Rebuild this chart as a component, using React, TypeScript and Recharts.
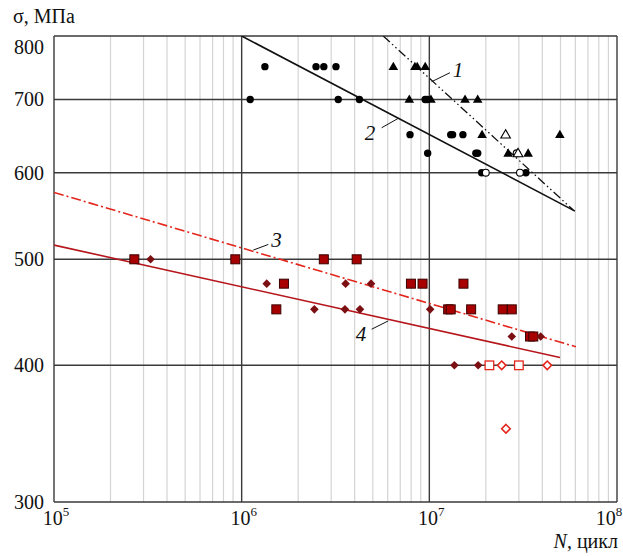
import {
  CartesianGrid,
  ReferenceDot,
  ReferenceLine,
  Scatter,
  ScatterChart,
  XAxis,
  YAxis,
} from "recharts";

const xDomain = [1e5, 1e8];
const yDomain = [300, 800];
const xTicks = [1e5, 1e6, 1e7, 1e8];
const yTicks = [300, 400, 500, 600, 700, 800];
const minorXTicks = [1e5, 1e6, 1e7].flatMap((d) => [2, 3, 4, 5, 6, 7, 8, 9].map((k) => k * d));

// [N, sigma]
const blackCircles = [
  [1.33e6, 750], [2.49e6, 750], [2.74e6, 750], [3.18e6, 750],
  [1.11e6, 700], [3.27e6, 700], [4.24e6, 700], [9.5e6, 700], [9.75e6, 700],
  [7.89e6, 650], [1.3e7, 650], [1.33e7, 650], [1.51e7, 650],
  [9.8e6, 625], [1.77e7, 625], [1.81e7, 625],
  [1.9e7, 600], [3.27e7, 600],
];
const blackCirclesOpen = [[2.0e7, 600], [3.04e7, 600], [2.92e7, 625]];
const blackTriangles = [
  [6.43e6, 750], [8.38e6, 750], [8.62e6, 750], [9.51e6, 750],
  [7.82e6, 700], [1.02e7, 700], [1.55e7, 700], [1.81e7, 700],
  [1.91e7, 650], [4.96e7, 650],
  [2.63e7, 625], [3.36e7, 625],
];
const blackTrianglesOpen = [[2.55e7, 650], [2.97e7, 625]];

const redSquares = [
  [2.68e5, 500], [9.25e5, 500], [2.74e6, 500], [4.1e6, 500],
  [1.68e6, 475], [7.98e6, 475], [9.2e6, 475], [1.52e7, 475],
  [1.53e6, 450], [1.26e7, 450], [1.3e7, 450], [1.67e7, 450], [2.46e7, 450], [2.75e7, 450],
  [3.44e7, 425], [3.58e7, 425],
];
const redDiamonds = [
  [3.27e5, 500],
  [1.36e6, 475], [3.58e6, 475], [4.89e6, 475],
  [2.44e6, 450], [3.55e6, 450], [4.27e6, 450], [1.01e7, 450],
  [2.75e7, 425], [3.92e7, 425],
  [1.36e7, 400], [1.82e7, 400],
];
const redSquaresOpen = [[2.09e7, 400], [3.0e7, 400]];
const redDiamondsOpen = [[2.43e7, 400], [4.25e7, 400], [2.56e7, 350]];

// fitted curves 1-4
const curve1 = [[5.68e6, 800], [5.85e7, 554.6]];
const curve2 = [[1e6, 800], [5.97e7, 553.4]];
const curve3 = [[1e5, 575.6], [6.04e7, 415.9]];
const curve4 = [[1e5, 515.2], [4.97e7, 406.6]];

// curve labels: text position, leader start, leader end
const curveLabels = [
  { text: "1", at: [1.42e7, 744.7], from: [1.028e7, 726.6], to: [1.288e7, 740.5] },
  { text: "2", at: [4.83e6, 652.2], from: [5.57e6, 659.5], to: [6.83e6, 672.7] },
  { text: "3", at: [1.535e6, 520.6], from: [1.153e6, 509.8], to: [1.387e6, 515.9] },
  { text: "4", at: [4.33e6, 427.7], from: [4.93e6, 431.6], to: [6.04e6, 439.2] },
];

const pts = (arr: number[][]) => arr.map(([n, s]) => ({ n, s }));

const SERIF = "Liberation Serif, serif";
const RED_DARK = "#A80000";
const RED_LINE = "#B5161B";
const RED_BRIGHT = "#E3261C";

const noShape = () => <g />;

const dotCircle = (p: any) => <circle cx={p.cx} cy={p.cy} r={3.7} fill="#000" />;
const dotCircleOpen = (p: any) => (
  <circle cx={p.cx} cy={p.cy} r={3.4} fill="#fff" stroke="#000" strokeWidth={1.1} />
);
const triPts = (cx: number, cy: number) =>
  `${cx},${cy - 5} ${cx - 4.8},${cy + 3.4} ${cx + 4.8},${cy + 3.4}`;
const dotTri = (p: any) => <polygon points={triPts(p.cx, p.cy)} fill="#000" />;
const dotTriOpen = (p: any) => (
  <polygon points={triPts(p.cx, p.cy)} fill="#fff" stroke="#000" strokeWidth={1.1} />
);
const diaPts = (cx: number, cy: number, r: number) =>
  `${cx},${cy - r} ${cx + r},${cy} ${cx},${cy + r} ${cx - r},${cy}`;
const dotSquare = (p: any) => (
  <rect x={p.cx - 4.5} y={p.cy - 4.5} width={9} height={9} fill={RED_DARK} stroke="#3a0000" strokeWidth={1} />
);
const dotDiamond = (p: any) => <polygon points={diaPts(p.cx, p.cy, 4.3)} fill="#7C0F12" />;
const dotSquareOpen = (p: any) => (
  <rect x={p.cx - 4.3} y={p.cy - 4.3} width={8.6} height={8.6} fill="#fff" stroke={RED_BRIGHT} strokeWidth={1.3} />
);
const dotDiamondOpen = (p: any) => (
  <polygon points={diaPts(p.cx, p.cy, 4.3)} fill="#fff" stroke={RED_BRIGHT} strokeWidth={1.6} />
);

function XTick({ x, payload }: any) {
  const exp = Math.round(Math.log10(payload.value));
  // whole "10^n" centred on the tick, kept inside the picture at the right edge
  const cx = Math.min(x + 2, 609);
  return (
    <text x={cx} y={525} textAnchor="middle" fontFamily={SERIF} fontSize={20} fill="#111">
      10
      <tspan dy={-9} fontSize={13}>{exp}</tspan>
    </text>
  );
}

function YTick({ y, payload }: any) {
  const ty = payload.value === 800 ? y + 11 : y;
  return (
    <text x={44} y={ty} dy="0.35em" textAnchor="end" fontFamily={SERIF} fontSize={20} fill="#111">
      {payload.value}
    </text>
  );
}

// minor log grid positions in the plot area
const minorGrid = ({ offset }: any) => {
  const lo = Math.log10(xDomain[0]);
  const hi = Math.log10(xDomain[1]);
  return minorXTicks.map((v) => offset.left + (offset.width * (Math.log10(v) - lo)) / (hi - lo));
};

export default function App() {
  return (
    <div style={{ position: "absolute", left: 0, top: 0, width: 623, height: 556, background: "#fff" }}>
      <div style={{ position: "absolute", left: 13, top: 5, fontFamily: SERIF, fontSize: 20, color: "#111" }}>
        σ, МПа
      </div>
      <div style={{ position: "absolute", right: 5, top: 530, fontFamily: SERIF, fontSize: 20, color: "#111" }}>
        <i>N</i>, цикл
      </div>
      <ScatterChart width={623} height={556} margin={{ top: 36, right: 6, bottom: 24, left: 0 }}>
        <XAxis
          type="number"
          dataKey="n"
          scale="log"
          domain={xDomain}
          ticks={xTicks}
          height={30}
          axisLine={false}
          tickLine={false}
          interval={0}
          tick={XTick}
          allowDataOverflow
        />
        <YAxis
          type="number"
          dataKey="s"
          scale="log"
          domain={yDomain}
          ticks={yTicks}
          width={54}
          axisLine={false}
          tickLine={false}
          interval={0}
          tick={YTick}
          allowDataOverflow
        />
        <CartesianGrid horizontal={false} stroke="#d4d4d4" strokeWidth={1.2} verticalCoordinatesGenerator={minorGrid} />
        <CartesianGrid stroke="#3a3a3a" strokeWidth={1.4} />

        <Scatter data={pts(curve3)} line={{ stroke: RED_BRIGHT, strokeWidth: 1.6, strokeDasharray: "10 3 2 3" }} shape={noShape} isAnimationActive={false} />
        <Scatter data={pts(curve4)} line={{ stroke: RED_LINE, strokeWidth: 1.6 }} shape={noShape} isAnimationActive={false} />
        <Scatter data={pts(curve1)} line={{ stroke: "#111", strokeWidth: 1.3, strokeDasharray: "9 3 1.5 3 1.5 3" }} shape={noShape} isAnimationActive={false} />
        <Scatter data={pts(curve2)} line={{ stroke: "#111", strokeWidth: 1.6 }} shape={noShape} isAnimationActive={false} />

        {curveLabels.map((l) => (
          <ReferenceLine
            key={"l" + l.text}
            segment={[{ x: l.from[0], y: l.from[1] }, { x: l.to[0], y: l.to[1] }]}
            stroke="#111"
            strokeWidth={1}
          />
        ))}
        {curveLabels.map((l) => (
          <ReferenceDot
            key={"t" + l.text}
            x={l.at[0]}
            y={l.at[1]}
            r={0}
            shape={(p: any) => (
              <text x={p.cx} y={p.cy} dy="0.35em" textAnchor="middle" fontFamily={SERIF} fontStyle="italic" fontSize={21} fill="#111">
                {l.text}
              </text>
            )}
          />
        ))}

        <Scatter data={pts(blackCircles)} shape={dotCircle} isAnimationActive={false} />
        <Scatter data={pts(blackTriangles)} shape={dotTri} isAnimationActive={false} />
        <Scatter data={pts(blackCirclesOpen)} shape={dotCircleOpen} isAnimationActive={false} />
        <Scatter data={pts(blackTrianglesOpen)} shape={dotTriOpen} isAnimationActive={false} />
        <Scatter data={pts(redSquares)} shape={dotSquare} isAnimationActive={false} />
        <Scatter data={pts(redDiamonds)} shape={dotDiamond} isAnimationActive={false} />
        <Scatter data={pts(redSquaresOpen)} shape={dotSquareOpen} isAnimationActive={false} />
        <Scatter data={pts(redDiamondsOpen)} shape={dotDiamondOpen} isAnimationActive={false} />
      </ScatterChart>
    </div>
  );
}
